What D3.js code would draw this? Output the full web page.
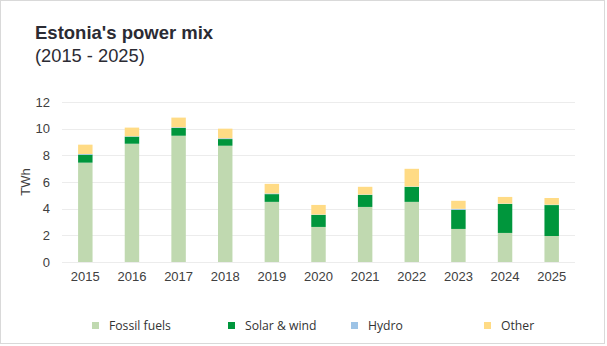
<!DOCTYPE html>
<html>
<head>
<meta charset="utf-8">
<script src="https://cdn.jsdelivr.net/npm/d3@7"></script>
<style>
  body { margin: 0; background: #fff; }
  svg { display: block; font-family: "Liberation Sans", Arial, sans-serif; }
</style>
</head>
<body>
<div id="chart"></div>
<script>
// yearly generation, TWh
const years = ["2015", "2016", "2017", "2018", "2019", "2020", "2021", "2022", "2023", "2024", "2025"];
const fossil = [7.45, 8.87, 9.47, 8.72, 4.51, 2.63, 4.13, 4.51, 2.48, 2.18, 1.95];
const solarWind = [0.6, 0.53, 0.58, 0.5, 0.58, 0.9, 0.9, 1.12, 1.43, 2.17, 2.32];
const hydro = [0.05, 0.03, 0.05, 0.06, 0.05, 0.03, 0.03, 0.03, 0.08, 0.03, 0.03];
const other = [0.7, 0.65, 0.73, 0.72, 0.72, 0.72, 0.58, 1.33, 0.6, 0.5, 0.5];
const yTicks = [0, 2, 4, 6, 8, 10, 12];

const seriesNames = ["Fossil fuels", "Solar & wind", "Hydro", "Other"];
const colors = ["#c0d9b0", "#00963c", "#9dc3e6", "#ffdb85"];

const W = 607, H = 346;
const margin = {top: 102, right: 32, bottom: 84, left: 62};
const width = W - margin.left - margin.right,
      height = H - margin.top - margin.bottom;

const rows = years.map((y, i) => ({
  year: y,
  "Fossil fuels": fossil[i],
  "Solar & wind": solarWind[i],
  "Hydro": hydro[i],
  "Other": other[i]
}));
const stacked = d3.stack().keys(seriesNames)(rows);

const svg = d3.select("#chart").append("svg")
  .attr("width", W).attr("height", H);

// card outline
svg.append("rect")
  .attr("x", 0.5).attr("y", 0.5)
  .attr("width", W - 3).attr("height", H - 3)
  .attr("fill", "#fff").attr("stroke", "#d9d9d9");

svg.append("text")
  .attr("x", 35).attr("y", 39)
  .attr("font-size", 18.5).attr("font-weight", "bold").attr("fill", "#2b2b33")
  .text("Estonia's power mix");
svg.append("text")
  .attr("x", 35).attr("y", 62)
  .attr("font-size", 18.3).attr("fill", "#2b2b33")
  .text("(2015 - 2025)");

const g = svg.append("g")
  .attr("transform", "translate(" + margin.left + "," + margin.top + ")");

const x = d3.scaleBand().domain(years).range([0, width]).paddingInner(0.69).paddingOuter(0.345);
const y = d3.scaleLinear().domain([0, 12]).range([height, 0]);

// grid
g.append("g")
  .selectAll("line")
  .data(yTicks)
  .join("line")
    .attr("x1", 0).attr("x2", width)
    .attr("y1", d => Math.round(y(d)) + 0.5)
    .attr("y2", d => Math.round(y(d)) + 0.5)
    .attr("stroke", "#ececec").attr("stroke-width", 1.2);

// y axis
g.append("g")
  .call(d3.axisLeft(y).tickValues(yTicks).tickSize(0).tickPadding(12))
  .call(a => a.select(".domain").remove())
  .selectAll("text")
    .attr("font-size", 13).attr("fill", "#404040")
    .attr("font-family", "\"Liberation Sans\", Arial, sans-serif");

// x axis
g.append("g")
  .attr("transform", "translate(0," + height + ")")
  .call(d3.axisBottom(x).tickSize(0).tickPadding(10))
  .call(a => a.select(".domain").remove())
  .selectAll("text")
    .attr("font-size", 13).attr("fill", "#404040")
    .attr("font-family", "\"Liberation Sans\", Arial, sans-serif");

svg.append("text")
  .attr("transform", "translate(30,182) rotate(-90)")
  .attr("text-anchor", "middle")
  .attr("font-size", 13).attr("fill", "#404040")
  .text("TWh");

// stacked bars
g.append("g")
  .selectAll("g")
  .data(stacked)
  .join("g")
    .attr("fill", (d, i) => colors[i])
  .selectAll("rect")
  .data(d => d)
  .join("rect")
    .attr("x", d => x(d.data.year))
    .attr("width", x.bandwidth())
    .attr("y", d => y(d[1]))
    .attr("height", d => y(d[0]) - y(d[1]));

// legend
const legendX = [92, 228, 351, 484];
const legend = svg.append("g")
  .selectAll("g")
  .data(seriesNames)
  .join("g")
    .attr("transform", (d, i) => "translate(" + legendX[i] + ",322)");
legend.append("rect")
  .attr("width", 7).attr("height", 7)
  .attr("fill", (d, i) => colors[i]);
legend.append("text")
  .attr("x", 17).attr("y", 8)
  .attr("font-family", "\"Open Sans\", sans-serif")
  .attr("font-size", 12.2).attr("fill", "#333")
  .text(d => d);
</script>
</body>
</html>
